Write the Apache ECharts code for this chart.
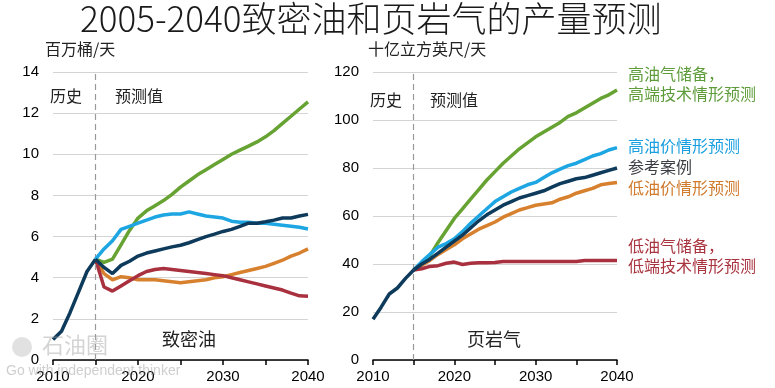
<!DOCTYPE html>
<html><head><meta charset="utf-8">
<script src="https://cdn.jsdelivr.net/npm/echarts@6/dist/echarts.min.js"></script>
<style>html,body{margin:0;padding:0;background:#fff}#c{width:775px;height:388px}</style>
</head><body><div id="c"></div>
<script>
var histYears = [2010, 2011, 2012, 2013, 2014, 2015];
var projYears = [2015, 2016, 2017, 2018, 2019, 2020, 2021, 2022, 2023, 2024, 2025, 2026, 2027, 2028, 2029, 2030, 2031, 2032, 2033, 2034, 2035, 2036, 2037, 2038, 2039, 2040];

// 致密油 (百万桶/天)
var oilHist   = [1.0, 1.4, 2.3, 3.3, 4.3, 4.9];
var oilRef    = [4.9, 4.5, 4.2, 4.6, 4.8, 5.05, 5.2, 5.3, 5.4, 5.5, 5.58, 5.7, 5.85, 6.0, 6.12, 6.25, 6.35, 6.5, 6.65, 6.65, 6.72, 6.8, 6.9, 6.9, 7.0, 7.08];
var oilHighPrice = [4.9, 5.4, 5.8, 6.35, 6.5, 6.65, 6.8, 6.95, 7.05, 7.1, 7.1, 7.2, 7.1, 7.0, 6.95, 6.9, 6.75, 6.7, 6.7, 6.65, 6.65, 6.6, 6.55, 6.5, 6.45, 6.37];
var oilHighRes = [4.9, 4.75, 4.9, 5.6, 6.3, 6.9, 7.25, 7.5, 7.75, 8.05, 8.4, 8.7, 9.0, 9.25, 9.5, 9.75, 10.0, 10.2, 10.4, 10.6, 10.85, 11.15, 11.5, 11.85, 12.2, 12.55];
var oilLowPrice = [4.9, 4.2, 3.9, 4.05, 4.0, 3.9, 3.9, 3.9, 3.85, 3.8, 3.75, 3.8, 3.85, 3.9, 4.0, 4.05, 4.15, 4.25, 4.35, 4.45, 4.55, 4.7, 4.85, 5.05, 5.2, 5.4];
var oilLowRes = [4.9, 3.55, 3.35, 3.6, 3.85, 4.1, 4.3, 4.4, 4.45, 4.4, 4.35, 4.3, 4.25, 4.2, 4.15, 4.1, 4.0, 3.9, 3.8, 3.7, 3.6, 3.5, 3.4, 3.25, 3.12, 3.1];

// 页岩气 (十亿立方英尺/天)
var gasHist   = [17, 22, 27.5, 30, 34, 37.5];
var gasRef    = [37.5, 40, 42, 44.5, 47, 49.5, 52, 55, 58, 60.5, 62.5, 64.5, 66, 67.5, 68.5, 69.5, 70.5, 72, 73.5, 74.5, 75.5, 76, 77, 78, 79, 80];
var gasHighPrice = [37.5, 41, 44, 47, 48.5, 50.5, 53.5, 57, 60, 63, 66, 68, 70, 71.5, 73, 74, 76, 78, 79.5, 81, 82, 83.5, 85, 86, 87.5, 88.5];
var gasHighRes = [37.5, 40.5, 43.5, 49, 54, 59, 63, 67, 71, 75, 78.5, 82, 85, 88, 90.5, 93, 95, 97, 99, 101.5, 103, 105, 107, 109, 110.5, 112.5];
var gasLowPrice = [37.5, 39.5, 41.5, 44, 46, 48, 50.5, 52.5, 54.5, 56, 57.5, 59.5, 61, 62.5, 63.5, 64.5, 65, 65.5, 67, 68, 69.5, 70.5, 71.5, 73, 73.5, 74];
var gasLowRes = [37.5, 38, 39, 39.3, 40.3, 40.8, 39.8, 40.3, 40.5, 40.5, 40.6, 41, 41, 41, 41, 41, 41, 41, 41, 41, 41, 41.5, 41.5, 41.5, 41.5, 41.5];

var xTicks = [2010, 2020, 2030, 2040];
var oilTicks = [0, 2, 4, 6, 8, 10, 12, 14];
var gasTicks = [0, 20, 40, 60, 80, 100, 120];

var labelsGas = [
  {lines: ['高油气储备，', '高端技术情形预测'], color: '#5e9c3a'},
  {lines: ['高油价情形预测'], color: '#1a9fe0'},
  {lines: ['参考案例'], color: '#3b3f44'},
  {lines: ['低油价情形预测'], color: '#d07a2c'},
  {lines: ['低油气储备，', '低端技术情形预测'], color: '#a8343f'}
];

var C = {green: '#67a332', blue: '#1ea6e3', navy: '#0e3a5b', orange: '#d7812f', red: '#a9313f'};

function pairs(xs, ys) { return xs.map(function (x, i) { return [x, ys[i]]; }); }

var FONT = '"Noto Sans CJK SC", "Noto Sans", sans-serif';
var NUMF = '"Liberation Sans", Arial, sans-serif';

function xAxis(idx) {
  return {
    type: 'value', gridIndex: idx, min: 2010, max: 2040, interval: 5,
    axisLine: {show: true, lineStyle: {color: '#000', width: 1.5}},
    axisTick: {show: true, length: 5, lineStyle: {color: '#000', width: 1.5}},
    splitLine: {show: false},
    axisLabel: {fontFamily: NUMF, fontSize: 15, color: '#000', margin: 9,
      formatter: function (v) { return xTicks.indexOf(v) >= 0 ? String(v) : ''; }}
  };
}
function yAxis(idx, ticks) {
  return {
    type: 'value', gridIndex: idx, min: ticks[0], max: ticks[ticks.length - 1], interval: ticks[1] - ticks[0],
    axisLine: {show: false}, axisTick: {show: false},
    splitLine: {show: true, lineStyle: {color: '#d4d4d4', width: 1}},
    axisLabel: {fontFamily: NUMF, fontSize: 15, color: '#000', margin: 14}
  };
}
function line(idx, xs, ys, color, z, mark) {
  var s = {
    type: 'line', xAxisIndex: idx, yAxisIndex: idx, data: pairs(xs, ys),
    showSymbol: false, symbol: 'none', smooth: false, z: z,
    lineStyle: {color: color, width: 3.5}, itemStyle: {color: color}, silent: true, animation: false
  };
  if (mark) {
    s.markLine = {silent: true, symbol: 'none', label: {show: false},
      lineStyle: {color: '#9a9a9a', type: [6, 4], width: 1.2},
      data: [{xAxis: 2015}]};
  }
  return s;
}

var graphics = [
  {type: 'text', left: 80, top: 1, style: {text: '2005-2040致密油和页岩气的产量预测', font: '300 35px ' + FONT, fill: '#1a1a1a'}},
  {type: 'text', left: 45, top: 41, style: {text: '百万桶/天', font: '16px ' + FONT, fill: '#222'}},
  {type: 'text', left: 368, top: 41, style: {text: '十亿立方英尺/天', font: '16px ' + FONT, fill: '#222'}},
  {type: 'text', left: 50, top: 88, style: {text: '历史', font: '16px ' + FONT, fill: '#222'}},
  {type: 'text', left: 115, top: 88, style: {text: '预测值', font: '16px ' + FONT, fill: '#222'}},
  {type: 'text', left: 370, top: 92, style: {text: '历史', font: '16px ' + FONT, fill: '#222'}},
  {type: 'text', left: 430, top: 92, style: {text: '预测值', font: '16px ' + FONT, fill: '#222'}},
  {type: 'text', left: 162, top: 330, style: {text: '致密油', font: '18px ' + FONT, fill: '#222'}},
  {type: 'text', left: 467, top: 330, style: {text: '页岩气', font: '18px ' + FONT, fill: '#222'}},
  {type: 'text', left: 42, top: 334, z: 50, style: {text: '石油圈', font: '22px ' + FONT, fill: 'rgba(160,160,160,0.45)'}},
  {type: 'circle', left: 12, top: 337, z: 50, shape: {r: 10}, style: {fill: 'rgba(170,170,170,0.35)'}},
  {type: 'text', left: 6, top: 364, z: 50, style: {text: 'Go with independent thinker', font: '14px ' + NUMF, fill: 'rgba(160,160,160,0.5)'}}
];
var tops = [64, 136, 157, 178, 236];
labelsGas.forEach(function (l, i) {
  graphics.push({type: 'text', left: 628, top: tops[i],
    style: {text: l.lines.join('\n'), font: '16px ' + FONT, fill: l.color, lineHeight: 20}});
});

var chart = echarts.init(document.getElementById('c'), null, {renderer: 'canvas'});
chart.setOption({
  animation: false,
  backgroundColor: '#fff',
  grid: [
    {left: 53, right: 775 - 308, top: 72, bottom: 388 - 360},
    {left: 373, right: 775 - 617, top: 72, bottom: 388 - 360}
  ],
  xAxis: [xAxis(0), xAxis(1)],
  yAxis: [yAxis(0, oilTicks), yAxis(1, gasTicks)],
  graphic: graphics,
  series: [
    line(0, projYears, oilLowPrice, C.orange, 3, true),
    line(0, projYears, oilLowRes, C.red, 4),
    line(0, projYears, oilHighRes, C.green, 5),
    line(0, projYears, oilHighPrice, C.blue, 6),
    line(0, histYears, oilHist, C.navy, 7),
    line(0, projYears, oilRef, C.navy, 7),
    line(1, projYears, gasLowPrice, C.orange, 3, true),
    line(1, projYears, gasLowRes, C.red, 4),
    line(1, projYears, gasHighRes, C.green, 5),
    line(1, projYears, gasHighPrice, C.blue, 6),
    line(1, histYears, gasHist, C.navy, 7),
    line(1, projYears, gasRef, C.navy, 7)
  ]
});
</script></body></html>
